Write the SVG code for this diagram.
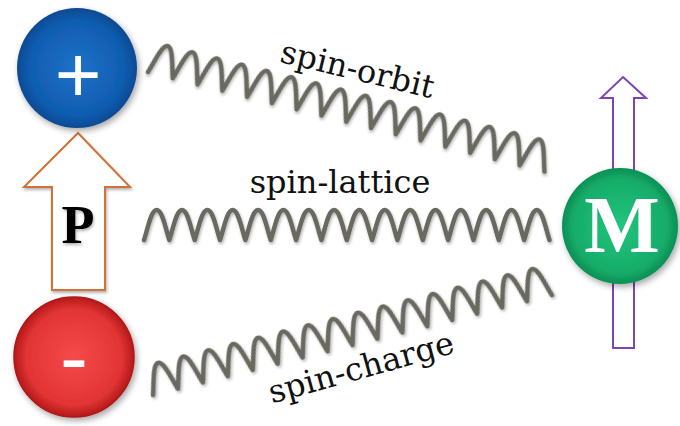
<svg xmlns="http://www.w3.org/2000/svg" width="680" height="426" viewBox="0 0 680 426">
<defs>
<filter id="sh" x="-20%" y="-20%" width="140%" height="140%"><feDropShadow dx="2" dy="3" stdDeviation="3" flood-color="#000" flood-opacity="0.35"/></filter>
<filter id="ssh" x="-5%" y="-20%" width="110%" height="140%"><feDropShadow dx="1" dy="2" stdDeviation="1.5" flood-color="#000" flood-opacity="0.3"/></filter>
<radialGradient id="gb" cx="50%" cy="50%" r="50%"><stop offset="0" stop-color="#1f72c8"/><stop offset="0.8" stop-color="#0f5cb0"/><stop offset="1" stop-color="#0a4a92"/></radialGradient>
<radialGradient id="gr" cx="50%" cy="50%" r="50%"><stop offset="0" stop-color="#f54a4a"/><stop offset="0.8" stop-color="#e23434"/><stop offset="1" stop-color="#b51a1a"/></radialGradient>
<radialGradient id="gg" cx="50%" cy="50%" r="50%"><stop offset="0" stop-color="#23c47e"/><stop offset="0.8" stop-color="#16ad69"/><stop offset="1" stop-color="#0c8f55"/></radialGradient>
<path id="spring" d="M0,0 c4,-12 7,-30 12.8,-30 s8.8,18 12.8,30 c4,-12 7,-30 12.8,-30 s8.8,18 12.8,30 c4,-12 7,-30 12.8,-30 s8.8,18 12.8,30 c4,-12 7,-30 12.8,-30 s8.8,18 12.8,30 c4,-12 7,-30 12.8,-30 s8.8,18 12.8,30 c4,-12 7,-30 12.8,-30 s8.8,18 12.8,30 c4,-12 7,-30 12.8,-30 s8.8,18 12.8,30 c4,-12 7,-30 12.8,-30 s8.8,18 12.8,30 c4,-12 7,-30 12.8,-30 s8.8,18 12.8,30 c4,-12 7,-30 12.8,-30 s8.8,18 12.8,30 c4,-12 7,-30 12.8,-30 s8.8,18 12.8,30 c4,-12 7,-30 12.8,-30 s8.8,18 12.8,30 c4,-12 7,-30 12.8,-30 s8.8,18 12.8,30 c4,-12 7,-30 12.8,-30 s8.8,18 12.8,30 c4,-12 7,-30 12.8,-30 s8.8,18 12.8,30 c4,-12 7,-30 12.8,-30 s8.8,18 12.8,30"/>
</defs>
<style>
.spr{fill:none;stroke:#6a6960;stroke-width:4.5;stroke-linecap:round;stroke-linejoin:round;filter:url(#ssh)}
.lbl{font-family:"DejaVu Serif","Liberation Serif",serif;font-size:32px;fill:#111}
.arrP{fill:#fff;stroke:#d0733a;stroke-width:2}
.arrM{fill:#fff;stroke:#7b45b5;stroke-width:2}
</style>
<g id="connectors">
<use href="#spring" class="spr" transform="translate(148,72) rotate(14.1) scale(0.998,1)"/>
<use href="#spring" class="spr" transform="translate(144,240) scale(0.99,1)"/>
<use href="#spring" class="spr" transform="translate(153,395) rotate(-14.07) scale(1.004,1)"/>
</g>
<g id="labels">
<text class="lbl" transform="translate(355,80) rotate(13.5)" text-anchor="middle">spin-orbit</text>
<text class="lbl" x="340" y="193" text-anchor="middle">spin-lattice</text>
<text class="lbl" transform="translate(364,378) rotate(-15.5)" text-anchor="middle">spin-charge</text>
</g>
<g id="P">
<polygon class="arrP" filter="url(#ssh)" points="78,133 130,187 105,187 105,290 52,290 52,187 24,187"/>
<text x="78" y="243" text-anchor="middle" font-family="Liberation Serif,serif" font-weight="bold" font-size="54" fill="#000" filter="url(#ssh)">P</text>
</g>
<g id="plus">
<circle cx="77" cy="68" r="60" fill="url(#gb)" filter="url(#sh)"/>
<text x="78" y="102" text-anchor="middle" font-family="Liberation Sans,sans-serif" font-size="80" fill="#fff">+</text>
</g>
<g id="minus">
<circle cx="74" cy="357" r="60" fill="url(#gr)" stroke="#b01818" stroke-width="1.5" filter="url(#sh)"/>
<text x="74" y="386" text-anchor="middle" font-family="Liberation Sans,sans-serif" font-size="84" fill="#fff">-</text>
</g>
<g id="M">
<polygon class="arrM" points="623,77 646,98 634,98 634,348 613,348 613,98 601,98"/>
<circle cx="620" cy="226" r="58" fill="url(#gg)" filter="url(#sh)"/>
<text x="622" y="252" text-anchor="middle" font-family="Liberation Serif,serif" font-weight="bold" font-size="80" fill="#fff">M</text>
</g>
</svg>
